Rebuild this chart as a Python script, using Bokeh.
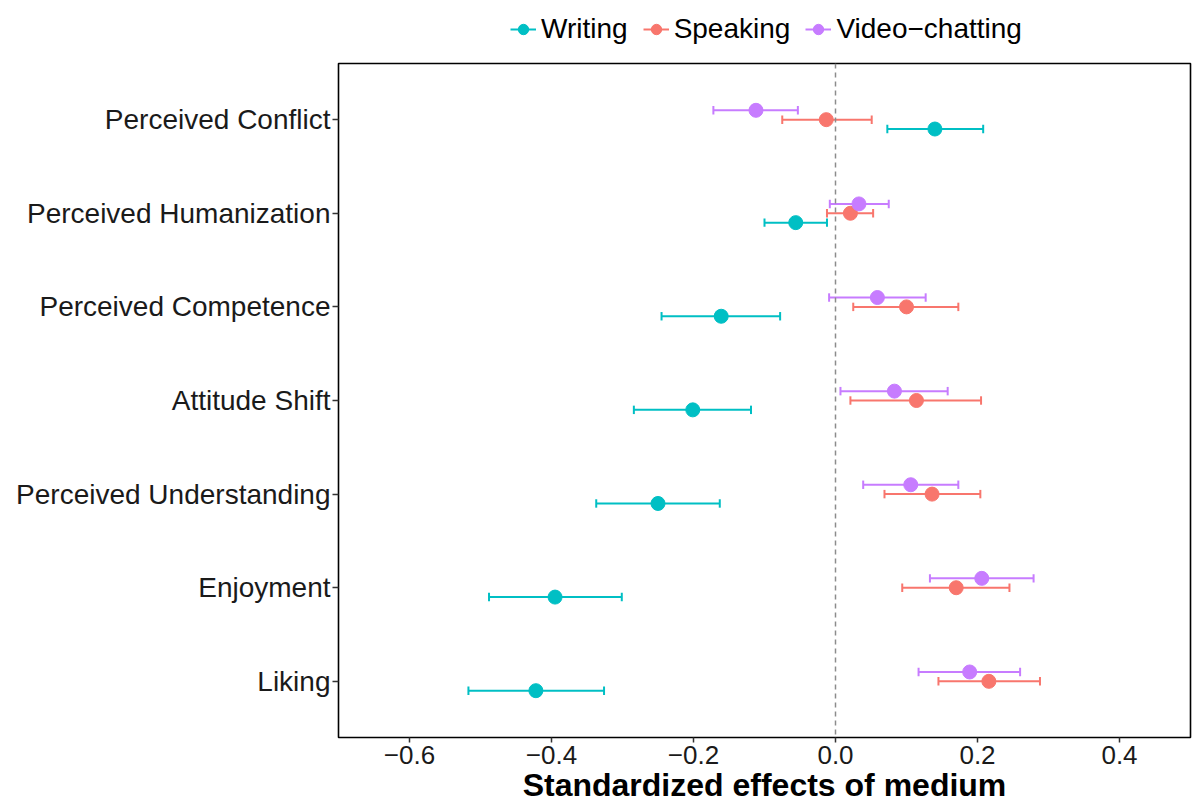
from bokeh.plotting import figure
from bokeh.layouts import column
from bokeh.models import (ColumnDataSource, FixedTicker, Span, Legend, LegendItem,
                          CustomJSTickFormatter, Range1d)
from bokeh.transform import dodge
from bokeh.embed import file_html
from bokeh.resources import INLINE

# ---------------- data ----------------
categories = ["Perceived Conflict", "Perceived Humanization", "Perceived Competence",
              "Attitude Shift", "Perceived Understanding", "Enjoyment", "Liking"]

writing_est = [0.140, -0.056, -0.161, -0.201, -0.250, -0.395, -0.422]
writing_lo = [0.073, -0.100, -0.245, -0.284, -0.337, -0.488, -0.517]
writing_hi = [0.208, -0.012, -0.078, -0.119, -0.163, -0.301, -0.326]

speaking_est = [-0.013, 0.021, 0.100, 0.114, 0.136, 0.170, 0.216]
speaking_lo = [-0.075, -0.012, 0.025, 0.021, 0.069, 0.094, 0.145]
speaking_hi = [0.051, 0.053, 0.173, 0.205, 0.204, 0.245, 0.288]

video_est = [-0.112, 0.033, 0.059, 0.083, 0.106, 0.206, 0.189]
video_lo = [-0.172, -0.008, -0.009, 0.007, 0.039, 0.133, 0.117]
video_hi = [-0.053, 0.075, 0.127, 0.158, 0.173, 0.279, 0.260]

series_names = ["Writing", "Speaking", "Video\u2212chatting"]
series_colors = ["#00BFC4", "#F8766D", "#C77CFF"]
series_offsets = [-0.1, 0.0, 0.1]

x_ticks = [-0.6, -0.4, -0.2, 0.0, 0.2, 0.4]

# category positions (top category highest)
n = len(categories)
cat_pos = [n - i for i in range(n)]

FONT = "Liberation Sans"
NAN = float("nan")

# ---------------- main plot ----------------
p = figure(width=1193, height=755,
           x_range=Range1d(-0.7, 0.5), y_range=Range1d(0.4, n + 0.6),
           output_backend="svg", toolbar_location=None,
           min_border_left=338, min_border_right=3, min_border_top=13,
           min_border_bottom=66, background_fill_color="white",
           border_fill_color="white")

p.xgrid.visible = False
p.ygrid.visible = False
p.outline_line_color = "black"
p.outline_line_width = 1.6

p.add_layout(Span(location=0, dimension="height", line_color="#8c8c8c",
                  line_dash="5 4", line_width=1.5))

# ---------------- legend strip ----------------
lg = figure(width=1193, height=50, x_range=Range1d(0, 1), y_range=Range1d(0, 1),
            output_backend="svg", toolbar_location=None,
            min_border=0, min_border_left=0, min_border_right=0,
            min_border_top=0, min_border_bottom=0)
lg.axis.visible = False
lg.grid.visible = False
lg.outline_line_color = None

legend_items = []
series = [(writing_est, writing_lo, writing_hi),
          (speaking_est, speaking_lo, speaking_hi),
          (video_est, video_lo, video_hi)]
for (est, lo, hi), name, col, off in zip(series, series_names, series_colors, series_offsets):
    src = ColumnDataSource(dict(y=cat_pos, est=est, lo=lo, hi=hi,
                                cap0=[c - 0.045 for c in cat_pos],
                                cap1=[c + 0.045 for c in cat_pos]))
    p.segment(x0="lo", x1="hi", y0=dodge("y", off), y1=dodge("y", off),
              source=src, line_color=col, line_width=2)
    p.segment(x0="lo", x1="lo", y0=dodge("cap0", off), y1=dodge("cap1", off),
              source=src, line_color=col, line_width=2)
    p.segment(x0="hi", x1="hi", y0=dodge("cap0", off), y1=dodge("cap1", off),
              source=src, line_color=col, line_width=2)
    p.scatter(x="est", y=dodge("y", off), source=src, size=14,
              fill_color=col, line_color=col, line_width=1)
    # legend key proxies (not drawn in the strip: NaN positions)
    proxy = ColumnDataSource(dict(x0=[NAN], x1=[NAN], y0=[NAN], y1=[NAN]))
    kb = lg.segment(x0="x0", x1="x1", y0="y0", y1="y1", source=proxy,
                    line_color=col, line_width=2)
    kp = lg.scatter(x="x0", y="y0", source=proxy, size=14,
                    fill_color=col, line_color=col)
    legend_items.append(LegendItem(label=name, renderers=[kb, kp]))

legend = Legend(items=legend_items, orientation="horizontal", location=(172, 4),
                label_text_font=FONT, label_text_font_size="28px",
                label_text_color="black", glyph_width=26, glyph_height=34,
                label_standoff=5, spacing=15, padding=0, margin=0,
                border_line_color=None, background_fill_alpha=0)
lg.add_layout(legend, "center")

# ---------------- axes ----------------
p.yaxis.ticker = FixedTicker(ticks=cat_pos)
p.yaxis.major_label_overrides = {pos: c for pos, c in zip(cat_pos, categories)}
p.yaxis.minor_tick_line_color = None
p.yaxis.major_tick_in = 0
p.yaxis.major_tick_out = 6
p.yaxis.major_tick_line_color = "#333333"
p.yaxis.major_tick_line_width = 1.5
p.yaxis.axis_line_color = None
p.yaxis.major_label_standoff = 2
p.yaxis.major_label_text_font = FONT
p.yaxis.major_label_text_font_size = "28px"
p.yaxis.major_label_text_color = "#1a1a1a"

p.xaxis.ticker = FixedTicker(ticks=x_ticks)
p.xaxis.formatter = CustomJSTickFormatter(
    code="return tick.toFixed(1).replace('-', '\u2212');")
p.xaxis.minor_tick_line_color = None
p.xaxis.major_tick_in = 0
p.xaxis.major_tick_out = 5
p.xaxis.major_tick_line_color = "#333333"
p.xaxis.major_tick_line_width = 1.5
p.xaxis.axis_line_color = None
p.xaxis.major_label_standoff = 3
p.xaxis.major_label_text_font = FONT
p.xaxis.major_label_text_font_size = "26px"
p.xaxis.major_label_text_color = "#1a1a1a"
p.xaxis.axis_label = "Standardized effects of medium"
p.xaxis.axis_label_text_font = FONT
p.xaxis.axis_label_text_font_size = "32px"
p.xaxis.axis_label_text_font_style = "bold"
p.xaxis.axis_label_text_color = "black"
p.xaxis.axis_label_standoff = 0

layout = column(lg, p, spacing=0)
open("out.html", "w").write(file_html(layout, INLINE))
